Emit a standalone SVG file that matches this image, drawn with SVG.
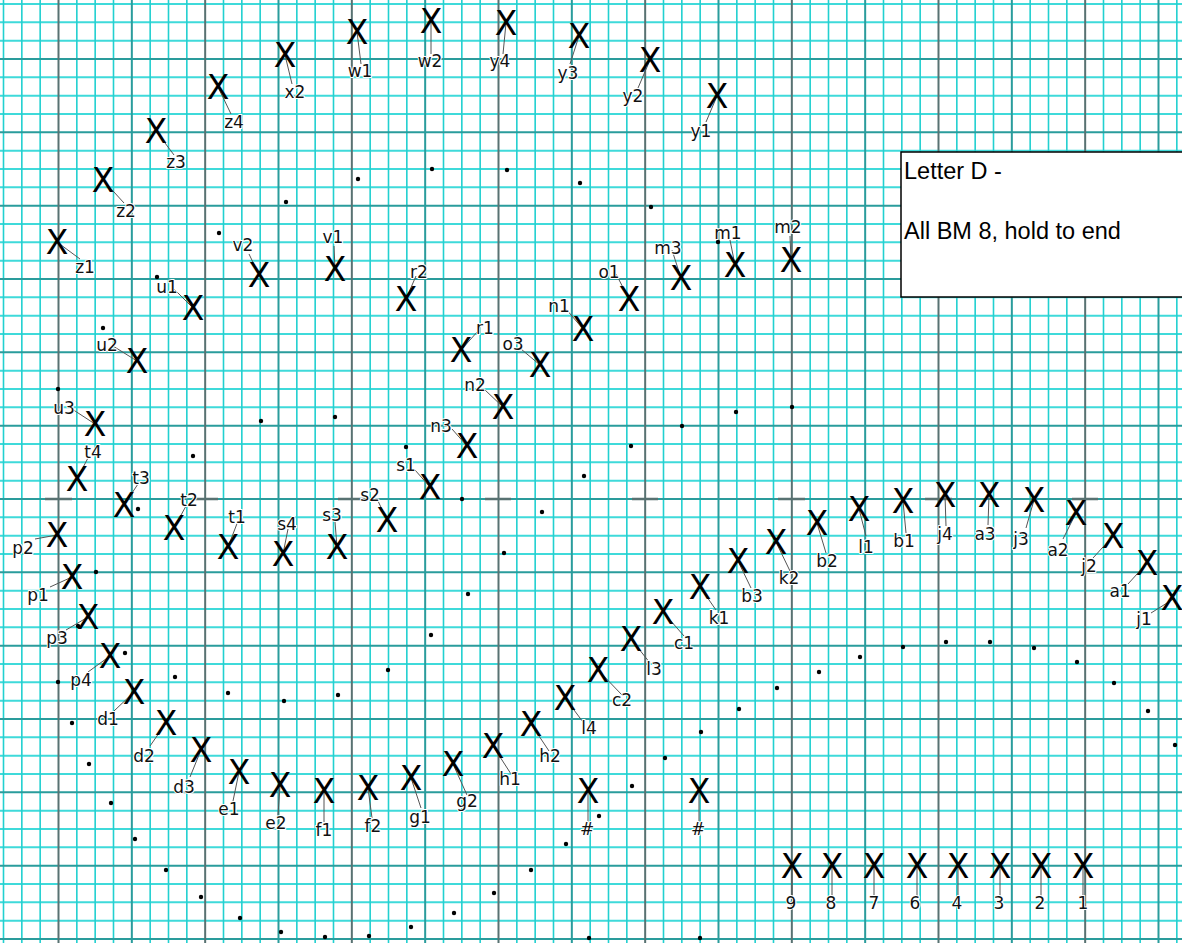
<svg xmlns="http://www.w3.org/2000/svg" width="1182" height="943" viewBox="0 0 1182 943">
<style>
.minh{stroke:#3fdada;stroke-width:2;fill:none}
.minv{stroke:#22d0d0;stroke-width:1.6;fill:none}
.majt{stroke:#2a9c9c;stroke-width:2;fill:none}
.majg{stroke:#587272;stroke-width:2;fill:none}
.dash{stroke:#587272;stroke-width:2.5;fill:none}
.dot{fill:#000}
.ld{stroke:#555;stroke-width:1;fill:none}
.x{font-family:"DejaVu Sans","Liberation Sans",sans-serif;font-size:33px;text-anchor:middle;fill:#000}
.lb{font-family:"DejaVu Sans","Liberation Sans",sans-serif;font-size:17px;text-anchor:middle;fill:#111;stroke:#fff;stroke-width:2;stroke-linejoin:round;paint-order:stroke}
.lg{font-family:"Liberation Sans",Arial,sans-serif;font-size:23.5px;fill:#000}
</style>
<rect width="1182" height="943" fill="#fff"/>
<g id="grid">
<path class="minh" d="M0 4H1182M0 22.33H1182M0 40.67H1182M0 77.33H1182M0 95.67H1182M0 114H1182M0 150.67H1182M0 169H1182M0 187.33H1182M0 224H1182M0 242.33H1182M0 260.67H1182M0 297.33H1182M0 315.67H1182M0 334H1182M0 370.67H1182M0 389H1182M0 407.33H1182M0 444H1182M0 462.33H1182M0 480.67H1182M0 517.33H1182M0 535.67H1182M0 554H1182M0 590.67H1182M0 609H1182M0 627.33H1182M0 664H1182M0 682.33H1182M0 700.67H1182M0 737.33H1182M0 755.67H1182M0 774H1182M0 810.67H1182M0 829H1182M0 847.33H1182M0 884H1182M0 902.33H1182M0 920.67H1182"/>
<path class="minv" d="M3.5 0V943M21.83 0V943M40.17 0V943M76.83 0V943M95.17 0V943M113.5 0V943M150.17 0V943M168.5 0V943M186.83 0V943M223.5 0V943M241.83 0V943M260.17 0V943M296.83 0V943M315.17 0V943M333.5 0V943M370.17 0V943M388.5 0V943M406.83 0V943M443.5 0V943M461.83 0V943M480.17 0V943M516.83 0V943M535.17 0V943M553.5 0V943M590.17 0V943M608.5 0V943M626.83 0V943M663.5 0V943M681.83 0V943M700.17 0V943M736.83 0V943M755.17 0V943M773.5 0V943M810.17 0V943M828.5 0V943M846.83 0V943M883.5 0V943M901.83 0V943M920.17 0V943M956.83 0V943M975.17 0V943M993.5 0V943M1030.17 0V943M1048.5 0V943M1066.83 0V943M1103.5 0V943M1121.83 0V943M1140.17 0V943M1176.83 0V943"/>
<path class="majt" d="M0 59H1182M0 132.33H1182M0 205.67H1182M0 279H1182M0 352.33H1182M0 425.67H1182M0 499H1182M0 572.33H1182M0 645.67H1182M0 719H1182M0 792.33H1182M0 865.67H1182M0 939H1182"/>
<path class="majt" d="M131.83 0V943M278.5 0V943M425.17 0V943M571.83 0V943M718.5 0V943M865.17 0V943M1011.83 0V943M1158.5 0V943"/>
<path class="majg" d="M58.5 0V943M205.17 0V943M351.83 0V943M498.5 0V943M645.17 0V943M791.83 0V943M938.5 0V943M1085.17 0V943"/>
<path class="dash" d="M45 499H72M192 499H218M338 499H365M485 499H511M632 499H658M778 499H805M925 499H952M1072 499H1098"/>
</g>
<g id="dots">
<circle class="dot" cx="358" cy="179" r="2.2"/><circle class="dot" cx="432" cy="169" r="2.2"/><circle class="dot" cx="507" cy="170" r="2.2"/><circle class="dot" cx="580" cy="183" r="2.2"/><circle class="dot" cx="651" cy="207" r="2.2"/><circle class="dot" cx="286" cy="202" r="2.2"/><circle class="dot" cx="219" cy="233" r="2.2"/><circle class="dot" cx="157" cy="277" r="2.2"/><circle class="dot" cx="103" cy="328" r="2.2"/><circle class="dot" cx="58" cy="389" r="2.2"/>
<circle class="dot" cx="718" cy="242" r="2.2"/>
<circle class="dot" cx="261" cy="421" r="2.2"/><circle class="dot" cx="335" cy="417" r="2.2"/><circle class="dot" cx="406" cy="447" r="2.2"/><circle class="dot" cx="462" cy="499" r="2.2"/><circle class="dot" cx="542" cy="512" r="2.2"/><circle class="dot" cx="584" cy="476" r="2.2"/><circle class="dot" cx="631" cy="446" r="2.2"/><circle class="dot" cx="682" cy="426" r="2.2"/><circle class="dot" cx="736" cy="412" r="2.2"/><circle class="dot" cx="792" cy="407" r="2.2"/>
<circle class="dot" cx="193" cy="456" r="2.2"/><circle class="dot" cx="138" cy="509" r="2.2"/><circle class="dot" cx="96" cy="572" r="2.2"/><circle class="dot" cx="78" cy="626" r="2.2"/><circle class="dot" cx="125" cy="653" r="2.2"/><circle class="dot" cx="58" cy="682" r="2.2"/><circle class="dot" cx="175" cy="677" r="2.2"/><circle class="dot" cx="228" cy="693" r="2.2"/><circle class="dot" cx="284" cy="701" r="2.2"/><circle class="dot" cx="338" cy="695" r="2.2"/><circle class="dot" cx="388" cy="670" r="2.2"/><circle class="dot" cx="431" cy="635" r="2.2"/><circle class="dot" cx="468" cy="594" r="2.2"/><circle class="dot" cx="504" cy="553" r="2.2"/>
<circle class="dot" cx="72" cy="723" r="2.2"/><circle class="dot" cx="89" cy="764" r="2.2"/><circle class="dot" cx="111" cy="803" r="2.2"/><circle class="dot" cx="135" cy="839" r="2.2"/><circle class="dot" cx="166" cy="870" r="2.2"/><circle class="dot" cx="201" cy="897" r="2.2"/><circle class="dot" cx="240" cy="918" r="2.2"/><circle class="dot" cx="281" cy="932" r="2.2"/><circle class="dot" cx="325" cy="937" r="2.2"/><circle class="dot" cx="369" cy="936" r="2.2"/><circle class="dot" cx="411" cy="927" r="2.2"/><circle class="dot" cx="454" cy="913" r="2.2"/><circle class="dot" cx="494" cy="893" r="2.2"/><circle class="dot" cx="531" cy="870" r="2.2"/><circle class="dot" cx="566" cy="844" r="2.2"/><circle class="dot" cx="599" cy="816" r="2.2"/><circle class="dot" cx="632" cy="786" r="2.2"/><circle class="dot" cx="665" cy="758" r="2.2"/><circle class="dot" cx="701" cy="732" r="2.2"/><circle class="dot" cx="739" cy="709" r="2.2"/><circle class="dot" cx="777" cy="688" r="2.2"/><circle class="dot" cx="819" cy="672" r="2.2"/><circle class="dot" cx="860" cy="657" r="2.2"/><circle class="dot" cx="903" cy="647" r="2.2"/><circle class="dot" cx="946" cy="642" r="2.2"/><circle class="dot" cx="990" cy="642" r="2.2"/><circle class="dot" cx="1034" cy="648" r="2.2"/><circle class="dot" cx="1077" cy="662" r="2.2"/><circle class="dot" cx="1114" cy="683" r="2.2"/><circle class="dot" cx="1148" cy="711" r="2.2"/><circle class="dot" cx="1175" cy="745" r="2.2"/>
<circle class="dot" cx="589" cy="938" r="2.2"/><circle class="dot" cx="700" cy="938" r="2.2"/>
</g>
<g id="legend">
<rect x="901" y="152" width="300" height="145" fill="#fff" stroke="#000" stroke-width="1.5"/>
<text class="lg" x="904" y="179">Letter D -</text>
<text class="lg" x="904" y="239">All BM 8, hold to end</text>
</g>
<g id="connectors">
<path class="ld" d="M357 32L361 64M431 21L431 54M506 23L503 54M579 36L570 64M650 60L638 88M717 96L706 122M285 55L292 84M218 87L231 114M156 131L174 155M103 180L124 203M57 242L80 259"/>
<path class="ld" d="M259 275L249 254M193 308L172 287M137 361L113 346M95 424L72 409M335 269L334 246M406 299L416 276M461 350L478 331M540 365L521 349M583 329L566 309M629 299L616 274M681 278L672 250M735 265L730 240M791 260L790 236M503 407L485 390M467 446L452 429M430 487L415 470M387 520L378 501M337 547L335 522M283 554L288 529M228 547L238 521M174 528L186 506M124 505L138 484M77 479L89 456"/>
<path class="ld" d="M57 535L35 539M72 577L50 587M88 617L66 630M110 656L88 672M134 692L114 711M166 723L150 746M201 750L190 777M239 772L233 801M280 785L278 815M324 791L324 822M368 788L372 818M411 778L421 808M453 764L467 795M493 746L511 774M531 724L549 751M565 698L583 722M598 670L622 695M631 639L650 663M663 612L684 636M700 587L716 610M738 561L751 588M776 542L790 571M817 523L826 553M859 509L866 536M903 501L906 533M945 495L946 526M989 495L988 525M1034 500L1026 528M1076 513L1063 539M1113 536L1093 558M1147 563L1128 584M1175 598L1151 613"/>
<path class="ld" d="M588 791V822M699 791V822M792 866V896M832 866V896M874 866V896M917 866V896M958 866V896M1000 866V896M1041 866V896M1083 866V896"/>
</g>
<g id="w1"><text class="x" x="357" y="44">X</text><text class="lb" x="360" y="77">w1</text></g>
<g id="w2"><text class="x" x="431" y="33">X</text><text class="lb" x="430" y="67">w2</text></g>
<g id="y4"><text class="x" x="506" y="35">X</text><text class="lb" x="500" y="67">y4</text></g>
<g id="y3"><text class="x" x="579" y="48">X</text><text class="lb" x="568" y="79">y3</text></g>
<g id="y2"><text class="x" x="650" y="72">X</text><text class="lb" x="633" y="102">y2</text></g>
<g id="y1"><text class="x" x="717" y="108">X</text><text class="lb" x="701" y="137">y1</text></g>
<g id="x2"><text class="x" x="285" y="67">X</text><text class="lb" x="295" y="98">x2</text></g>
<g id="z4"><text class="x" x="218" y="99">X</text><text class="lb" x="234" y="128">z4</text></g>
<g id="z3"><text class="x" x="156" y="143">X</text><text class="lb" x="176" y="168">z3</text></g>
<g id="z2"><text class="x" x="103" y="192">X</text><text class="lb" x="126" y="217">z2</text></g>
<g id="z1"><text class="x" x="57" y="254">X</text><text class="lb" x="85" y="273">z1</text></g>
<g id="v2"><text class="x" x="259" y="287">X</text><text class="lb" x="243" y="251">v2</text></g>
<g id="u1"><text class="x" x="193" y="320">X</text><text class="lb" x="167" y="293">u1</text></g>
<g id="u2"><text class="x" x="137" y="373">X</text><text class="lb" x="107" y="351">u2</text></g>
<g id="u3"><text class="x" x="95" y="436">X</text><text class="lb" x="64" y="414">u3</text></g>
<g id="v1"><text class="x" x="335" y="281">X</text><text class="lb" x="333" y="243">v1</text></g>
<g id="r2"><text class="x" x="406" y="311">X</text><text class="lb" x="419" y="278">r2</text></g>
<g id="r1"><text class="x" x="461" y="362">X</text><text class="lb" x="485" y="334">r1</text></g>
<g id="o3"><text class="x" x="540" y="377">X</text><text class="lb" x="513" y="350">o3</text></g>
<g id="n1"><text class="x" x="583" y="341">X</text><text class="lb" x="559" y="312">n1</text></g>
<g id="o1"><text class="x" x="629" y="311">X</text><text class="lb" x="609" y="278">o1</text></g>
<g id="m3"><text class="x" x="681" y="290">X</text><text class="lb" x="668" y="254">m3</text></g>
<g id="m1"><text class="x" x="735" y="277">X</text><text class="lb" x="728" y="239">m1</text></g>
<g id="m2"><text class="x" x="791" y="272">X</text><text class="lb" x="788" y="233">m2</text></g>
<g id="n2"><text class="x" x="503" y="419">X</text><text class="lb" x="475" y="391">n2</text></g>
<g id="n3"><text class="x" x="467" y="458">X</text><text class="lb" x="441" y="432">n3</text></g>
<g id="s1"><text class="x" x="430" y="499">X</text><text class="lb" x="406" y="471">s1</text></g>
<g id="s2"><text class="x" x="387" y="532">X</text><text class="lb" x="370" y="501">s2</text></g>
<g id="s3"><text class="x" x="337" y="559">X</text><text class="lb" x="332" y="521">s3</text></g>
<g id="s4"><text class="x" x="283" y="566">X</text><text class="lb" x="287" y="530">s4</text></g>
<g id="t1"><text class="x" x="228" y="559">X</text><text class="lb" x="237" y="523">t1</text></g>
<g id="t2"><text class="x" x="174" y="540">X</text><text class="lb" x="189" y="506">t2</text></g>
<g id="t3"><text class="x" x="124" y="517">X</text><text class="lb" x="141" y="484">t3</text></g>
<g id="t4"><text class="x" x="77" y="491">X</text><text class="lb" x="93" y="458">t4</text></g>
<g id="p2"><text class="x" x="57" y="547">X</text><text class="lb" x="23" y="554">p2</text></g>
<g id="p1"><text class="x" x="72" y="589">X</text><text class="lb" x="38" y="601">p1</text></g>
<g id="p3"><text class="x" x="88" y="629">X</text><text class="lb" x="57" y="644">p3</text></g>
<g id="p4"><text class="x" x="110" y="668">X</text><text class="lb" x="81" y="686">p4</text></g>
<g id="d1"><text class="x" x="134" y="704">X</text><text class="lb" x="108" y="725">d1</text></g>
<g id="d2"><text class="x" x="166" y="735">X</text><text class="lb" x="144" y="762">d2</text></g>
<g id="d3"><text class="x" x="201" y="762">X</text><text class="lb" x="184" y="793">d3</text></g>
<g id="e1"><text class="x" x="239" y="784">X</text><text class="lb" x="229" y="815">e1</text></g>
<g id="e2"><text class="x" x="280" y="797">X</text><text class="lb" x="276" y="829">e2</text></g>
<g id="f1"><text class="x" x="324" y="803">X</text><text class="lb" x="324" y="836">f1</text></g>
<g id="f2"><text class="x" x="368" y="800">X</text><text class="lb" x="373" y="832">f2</text></g>
<g id="g1"><text class="x" x="411" y="790">X</text><text class="lb" x="420" y="823">g1</text></g>
<g id="g2"><text class="x" x="453" y="776">X</text><text class="lb" x="467" y="807">g2</text></g>
<g id="h1"><text class="x" x="493" y="758">X</text><text class="lb" x="510" y="785">h1</text></g>
<g id="h2"><text class="x" x="531" y="736">X</text><text class="lb" x="550" y="762">h2</text></g>
<g id="l4"><text class="x" x="565" y="710">X</text><text class="lb" x="589" y="734">l4</text></g>
<g id="c2"><text class="x" x="598" y="682">X</text><text class="lb" x="622" y="706">c2</text></g>
<g id="l3"><text class="x" x="631" y="651">X</text><text class="lb" x="654" y="675">l3</text></g>
<g id="c1"><text class="x" x="663" y="624">X</text><text class="lb" x="684" y="649">c1</text></g>
<g id="k1"><text class="x" x="700" y="599">X</text><text class="lb" x="719" y="624">k1</text></g>
<g id="b3"><text class="x" x="738" y="573">X</text><text class="lb" x="752" y="602">b3</text></g>
<g id="k2"><text class="x" x="776" y="554">X</text><text class="lb" x="789" y="584">k2</text></g>
<g id="b2"><text class="x" x="817" y="535">X</text><text class="lb" x="827" y="567">b2</text></g>
<g id="l1"><text class="x" x="859" y="521">X</text><text class="lb" x="866" y="553">l1</text></g>
<g id="b1"><text class="x" x="903" y="513">X</text><text class="lb" x="904" y="547">b1</text></g>
<g id="j4"><text class="x" x="945" y="507">X</text><text class="lb" x="945" y="540">j4</text></g>
<g id="a3"><text class="x" x="989" y="507">X</text><text class="lb" x="985" y="540">a3</text></g>
<g id="j3"><text class="x" x="1034" y="512">X</text><text class="lb" x="1021" y="545">j3</text></g>
<g id="a2"><text class="x" x="1076" y="525">X</text><text class="lb" x="1058" y="556">a2</text></g>
<g id="j2"><text class="x" x="1113" y="548">X</text><text class="lb" x="1089" y="572">j2</text></g>
<g id="a1"><text class="x" x="1147" y="575">X</text><text class="lb" x="1120" y="597">a1</text></g>
<g id="j1"><text class="x" x="1172" y="610">X</text><text class="lb" x="1144" y="625">j1</text></g>
<g id="hash1"><text class="x" x="588" y="803">X</text><text class="lb" x="587" y="835">#</text></g>
<g id="hash2"><text class="x" x="699" y="803">X</text><text class="lb" x="698" y="835">#</text></g>
<g id="num9"><text class="x" x="792" y="878">X</text><text class="lb" x="791" y="909">9</text></g>
<g id="num8"><text class="x" x="832" y="878">X</text><text class="lb" x="831" y="909">8</text></g>
<g id="num7"><text class="x" x="874" y="878">X</text><text class="lb" x="874" y="909">7</text></g>
<g id="num6"><text class="x" x="917" y="878">X</text><text class="lb" x="915" y="909">6</text></g>
<g id="num4"><text class="x" x="958" y="878">X</text><text class="lb" x="957" y="909">4</text></g>
<g id="num3"><text class="x" x="1000" y="878">X</text><text class="lb" x="999" y="909">3</text></g>
<g id="num2"><text class="x" x="1041" y="878">X</text><text class="lb" x="1040" y="909">2</text></g>
<g id="num1"><text class="x" x="1083" y="878">X</text><text class="lb" x="1083" y="909">1</text></g>
</svg>
